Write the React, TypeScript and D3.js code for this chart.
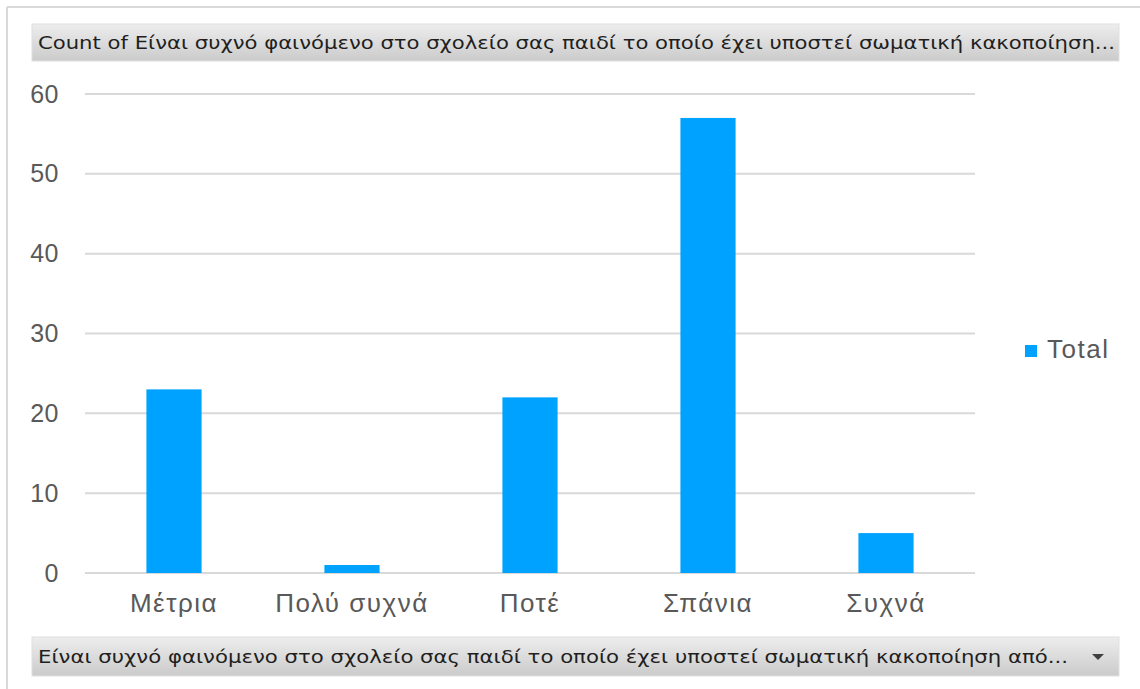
import React from "react";
import * as d3 from "d3";

const categories = ["Μέτρια", "Πολύ συχνά", "Ποτέ", "Σπάνια", "Συχνά"];
const totals = [23, 1, 22, 57, 5];
const yTicks = [0, 10, 20, 30, 40, 50, 60];
const titleText = "Count of Είναι συχνό φαινόμενο στο σχολείο σας παιδί το οποίο έχει υποστεί σωματική κακοποίηση...";
const axisFieldText = "Είναι συχνό φαινόμενο στο σχολείο σας παιδί το οποίο έχει υποστεί σωματική κακοποίηση από...";
const legendLabel = "Total";

const W = 1140;
const H = 689;
const plot = { left: 85, right: 975, top: 94, bottom: 573 };

export default function App() {
  const x = d3.scaleBand<string>().domain(categories).range([plot.left, plot.right]).paddingInner(0.69).paddingOuter(0.345);
  const y = d3.scaleLinear().domain([0, 60]).range([plot.bottom, plot.top]);
  const barColor = "#00A2FF";
  const labelFont = "'Liberation Sans', Arial, sans-serif";
  const boxFont = "'DejaVu Sans', Tahoma, sans-serif";
  return (
    <svg width={W} height={H} style={{ position: "absolute", left: 0, top: 0 }}>
      <defs>
        <linearGradient id="boxGrad" x1="0" y1="0" x2="0" y2="1">
          <stop offset="0" stopColor="#ededed" />
          <stop offset="1" stopColor="#cbcbcb" />
        </linearGradient>
      </defs>
      <rect x={0} y={0} width={W} height={H} fill="#ffffff" />
      <line x1={7} y1={7} x2={W} y2={7} stroke="#d9d9d9" strokeWidth={2} />
      <line x1={7} y1={7} x2={7} y2={H} stroke="#d9d9d9" strokeWidth={2} />

      <rect x={32} y={24} width={1087} height={37} fill="url(#boxGrad)" stroke="#e0e0e0" strokeWidth={1} />
      <text x={38} y={49} fontFamily={boxFont} fontSize={17.5} fill="#1f1f1f" textLength={1077} lengthAdjust="spacingAndGlyphs">{titleText}</text>

      {yTicks.map((t) => (
        <g key={t}>
          <line x1={plot.left} x2={plot.right} y1={y(t)} y2={y(t)} stroke="#d9d9d9" strokeWidth={2} />
          <text x={59} y={y(t) + 8.5} textAnchor="end" fontFamily={labelFont} fontSize={25} letterSpacing={0.5} fill="#595959">{t}</text>
        </g>
      ))}

      {categories.map((c, i) => (
        <g key={c}>
          <rect x={x(c)} y={y(totals[i])} width={x.bandwidth()} height={y(0) - y(totals[i])} fill={barColor} />
          <text x={(x(c) as number) + x.bandwidth() / 2} y={612} textAnchor="middle" fontFamily={labelFont} fontSize={26} letterSpacing={1.5} fill="#595959">{c}</text>
        </g>
      ))}

      <rect x={1025} y={345} width={12} height={12} fill={barColor} />
      <text x={1047} y={358} fontFamily={labelFont} fontSize={26} letterSpacing={1.5} fill="#595959">{legendLabel}</text>

      <rect x={32} y={637} width={1087} height={39} fill="url(#boxGrad)" stroke="#e0e0e0" strokeWidth={1} />
      <text x={38} y={663} fontFamily={boxFont} fontSize={17.5} fill="#1f1f1f" textLength={1030} lengthAdjust="spacingAndGlyphs">{axisFieldText}</text>
      <path d="M1092,654 L1104,654 L1098,660 Z" fill="#404040" />
    </svg>
  );
}
